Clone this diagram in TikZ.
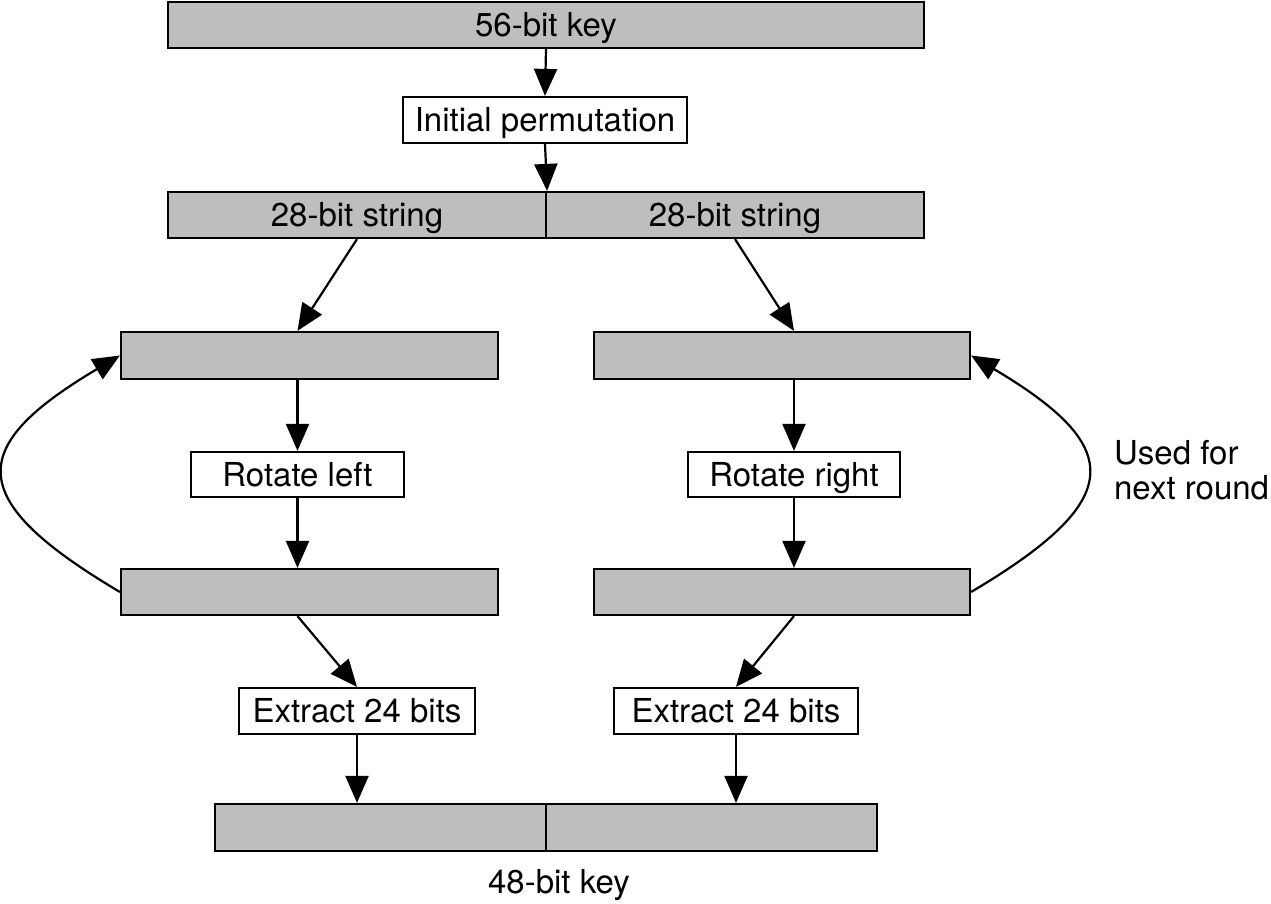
\documentclass[tikz,border=0pt]{standalone}
\usepackage{fontspec}
\setmainfont{TeX Gyre Heros}
\usetikzlibrary{arrows.meta,calc}
\definecolor{barfill}{HTML}{BDBEC0}
\begin{document}
\begin{tikzpicture}[x=0.5pt,y=-0.5pt,
  line width=1.1pt,
  font=\fontsize{16.5pt}{18pt}\selectfont,
  captext/.style={text height=11.85pt, text depth=0pt},
  bar/.style={draw, fill=barfill, inner sep=0pt, minimum height=23pt, captext},
  stepbox/.style={draw, fill=white, inner sep=0pt, minimum height=23pt, captext},
  flow/.style={-{Triangle[length=13.5pt,width=11.5pt]}},
]
\useasboundingbox (0,0) rectangle (1271,904);

% key halves and working registers
\node[bar, minimum width=378pt] (key56) at (546,25) {56-bit key};
\node[stepbox, minimum width=142pt] (perm) at (545,120) {Initial permutation};
\node[bar, minimum width=189pt] (s28l) at (357,215) {28-bit string};
\node[bar, minimum width=189pt] (s28r) at (735,215) {28-bit string};

\node[bar, minimum width=188.5pt, minimum height=23.5pt] (lt) at (309.5,355.5) {};
\node[bar, minimum width=188pt, minimum height=23.5pt] (rt) at (782,355.5) {};
\node[stepbox, minimum width=106.5pt, minimum height=22.5pt] (rotl) at (297.5,474.5) {Rotate left};
\node[stepbox, minimum width=106pt, minimum height=22.5pt] (rotr) at (794,474.5) {Rotate right};
\node[bar, minimum width=188.5pt] (lb) at (309.5,592) {};
\node[bar, minimum width=188pt] (rb) at (782,592) {};

\node[stepbox, minimum width=118pt] (exl) at (357,711) {Extract 24 bits};
\node[stepbox, minimum width=122pt] (exr) at (736,711) {Extract 24 bits};
\node[bar, minimum width=165.5pt, minimum height=23.5pt] (k48l) at (380.5,827.5) {};
\node[bar, minimum width=165.5pt, minimum height=23.5pt] (k48r) at (711.5,827.5) {};
\node[captext, inner sep=0pt] (k48lbl) at (559,882) {48-bit key};

\node[align=left, anchor=west, inner sep=0pt] (note) at (1113,470)
  {Used for\\[-0.5pt]next round};

% data flow
\draw[flow] (key56.south) -- (perm.north);
\draw[flow] (perm.south) -- (s28l.north east);
\draw[flow] (s28l.south) -- (rotl |- lt.north);
\draw[flow] (s28r.south) -- (rotr |- rt.north);
\draw[flow] (rotl |- lt.south) -- (rotl.north);
\draw[flow] (rotr |- rt.south) -- (rotr.north);
\draw[flow] (rotl.south) -- (rotl |- lb.north);
\draw[flow] (rotr.south) -- (rotr |- rb.north);
\draw[flow] (rotl |- lb.south) -- (exl.north);
\draw[flow] (rotr |- rb.south) -- (exr.north);
\draw[flow] (exl.south) -- (exl |- k48l.north);
\draw[flow] (exr.south) -- (exr |- k48r.north);

% feedback to the next round
\draw[flow] (lb.west) .. controls ($(lb.west)+(-155,-92)$)
  and ($(lt.west)+(-155,92)$) .. (lt.west);
\draw[flow] (rb.east) .. controls ($(rb.east)+(155,-92)$)
  and ($(rt.east)+(155,92)$) .. (rt.east);
\end{tikzpicture}
\end{document}
